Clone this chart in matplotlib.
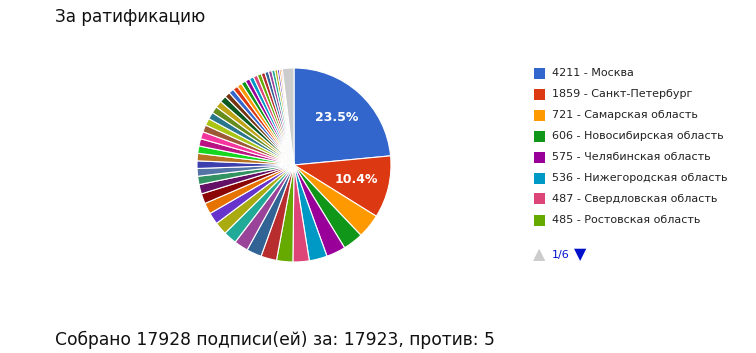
import matplotlib
matplotlib.use("Agg")
import matplotlib.pyplot as plt
from matplotlib.patches import Rectangle
import numpy as np

# ---- data ----
title = "За ратификацию"
footer = "Собрано 17928 подписи(ей) за: 17923, против: 5"
top_regions = ["Москва", "Санкт-Петербург", "Самарская область", "Новосибирская область",
               "Челябинская область", "Нижегородская область", "Свердловская область",
               "Ростовская область"]
top_values = [4211, 1859, 721, 606, 575, 536, 487, 485]
# remaining (unlabelled on page 1 of the legend) regions
rest_values = [470, 450, 420, 400, 380, 350, 330, 300, 280, 250, 230,
               225, 222, 220, 218, 215, 212, 210, 208, 205, 202, 200,
               160, 155, 150, 145, 140, 135, 130, 125, 120, 115, 110, 100, 90, 75, 60, 50, 40]
other_value = 346  # grouped "Other" slice
legend_page = "1/6"

palette = ["#3366cc", "#dc3912", "#ff9900", "#109618", "#990099", "#0099c6", "#dd4477",
           "#66aa00", "#b82e2e", "#316395", "#994499", "#22aa99", "#aaaa11", "#6633cc",
           "#e67300", "#8b0707", "#651067", "#329262", "#5574a6", "#3b3eac", "#b77322",
           "#16d620", "#b91383", "#f4359e", "#9c5935", "#a9c413", "#2a778d", "#668d1c",
           "#bea413", "#0c5922", "#743411"]

values = top_values + rest_values + [other_value]
colors = [palette[i % len(palette)] for i in range(len(values) - 1)] + ["#cccccc"]
total = sum(values)

W, H = 756, 353
fig = plt.figure(figsize=(W / 100, H / 100), dpi=100)
fig.patch.set_facecolor("white")

def fx(x):
    return x / W

def fy(y):
    return 1 - y / H

# pie axes: center (294,165), radius 97 px
cx, cy, r = 294, 165, 97
ax = fig.add_axes([fx(cx - r), fy(cy + r), 2 * r / W, 2 * r / H])
wedges, _ = ax.pie(values, colors=colors, startangle=90, counterclock=False,
                   wedgeprops=dict(edgecolor="white", linewidth=0.8))
ax.set_xlim(-1, 1)
ax.set_ylim(-1, 1)
ax.set_aspect("auto")
ax.axis("off")

for w, v in zip(wedges[:2], values[:2]):
    mid = np.deg2rad((w.theta1 + w.theta2) / 2)
    ax.text(0.66 * np.cos(mid), 0.66 * np.sin(mid), f"{100 * v / total:.1f}%",
            color="white", fontsize=9, ha="center", va="center", family="DejaVu Sans",
            fontweight="semibold")

# title and footer
fig.text(fx(55), fy(17), title, fontsize=12.2, ha="left", va="center", color="#111111",
         family="DejaVu Sans")
fig.text(fx(55), fy(340), footer, fontsize=12.35, ha="left", va="center", color="#111111",
         family="DejaVu Sans")

# legend
y0, dy = 73, 21
for i, (name, v) in enumerate(zip(top_regions, top_values)):
    y = y0 + i * dy
    fig.patches.append(Rectangle((fx(534), fy(y + 5.5)), 11 / W, 11 / H,
                                 transform=fig.transFigure, facecolor=colors[i],
                                 edgecolor="none"))
    fig.text(fx(552), fy(y), f"{v} - {name}", fontsize=8, ha="left", va="center",
             color="#222222", family="DejaVu Sans")

# legend paging
fig.text(fx(533), fy(255), "▲", fontsize=11.5, ha="left", va="center", color="#cccccc",
         family="DejaVu Sans")
fig.text(fx(552), fy(255), legend_page, fontsize=8, ha="left", va="center", color="#0011cc",
         family="DejaVu Sans")
fig.text(fx(574), fy(255), "▼", fontsize=11.5, ha="left", va="center", color="#0011cc",
         family="DejaVu Sans")

fig.savefig("out.png", dpi=100, facecolor="white")
